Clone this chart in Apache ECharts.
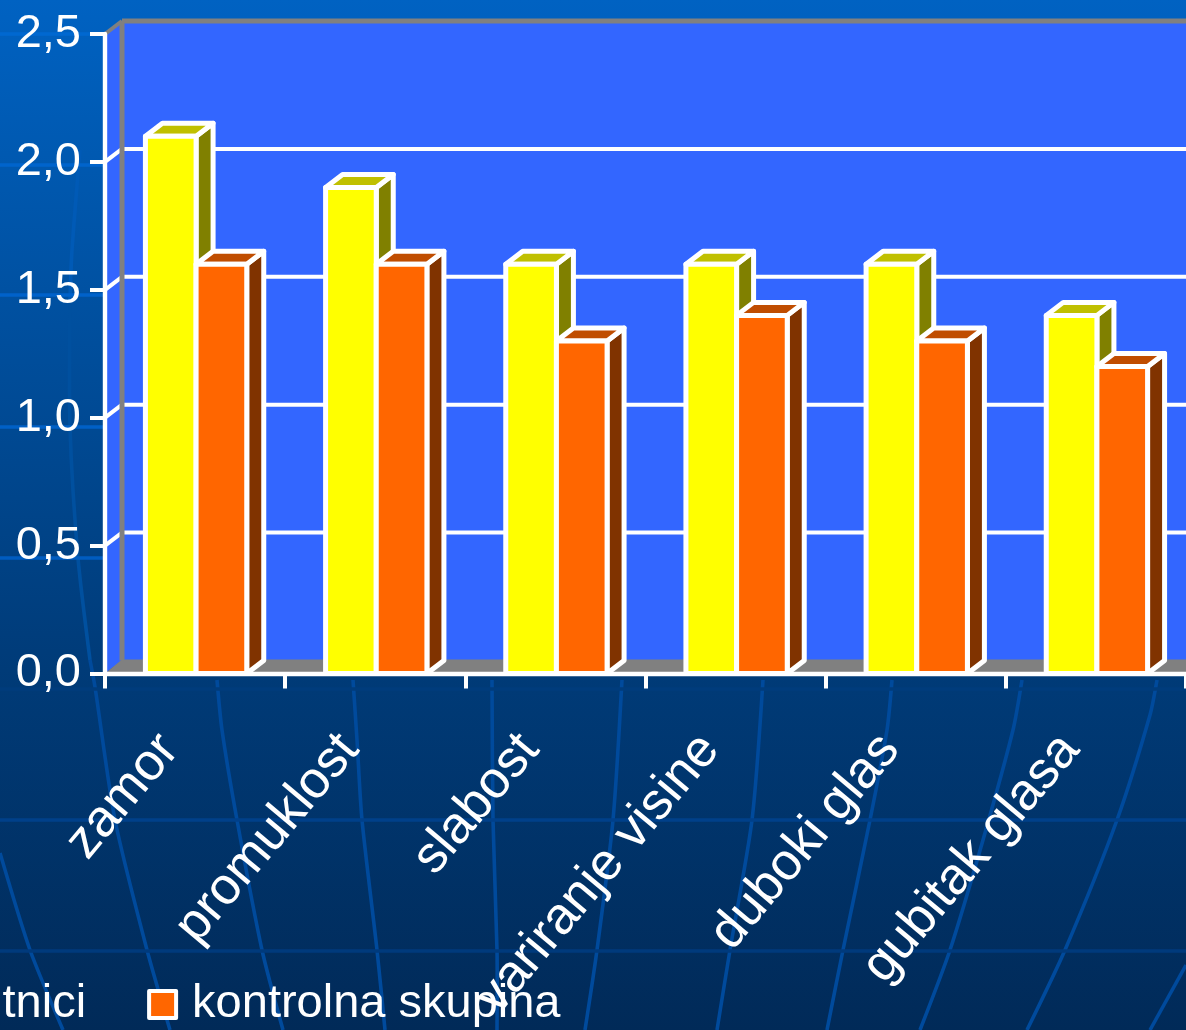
<!DOCTYPE html>
<html>
<head>
<meta charset="utf-8">
<style>html,body{margin:0;padding:0;background:#003a78}#c{width:1186px;height:1030px}</style>
<script src="https://cdn.jsdelivr.net/npm/echarts@6/dist/echarts.min.js"></script>
</head>
<body>
<div id="c"></div>
<script>
const categories = ['zamor','promuklost','slabost','variranje visine','duboki glas','gubitak glasa'];
const seriesAName = 'ispitnici';
const seriesBName = 'kontrolna skupina';
const seriesA = [2.1,1.9,1.6,1.6,1.6,1.4];
const seriesB = [1.6,1.6,1.3,1.4,1.3,1.2];
const yGridValues = [0.5,1.0,1.5,2.0];
const yMin = 0, yMax = 2.5, yStep = 0.5;

const DX = 17, DY = 13, FONT = 'Liberation Sans, Arial, sans-serif';
const chart = echarts.init(document.getElementById('c'));

function poly(points, fill, stroke, lw) {
  return {type:'polygon', shape:{points}, style:{fill, stroke, lineWidth:lw, lineJoin:'round'}};
}
function line(a, b, stroke, lw) {
  return {type:'line', shape:{x1:a[0],y1:a[1],x2:b[0],y2:b[1]}, style:{stroke, lineWidth:lw}};
}
function renderWall(params, api) {
  const band = api.size([1,0])[0];
  const left = api.coord([0,yMin])[0] - band/2;
  const right = api.coord([categories.length-1,yMin])[0] + band/2 + 40;
  const yb = api.coord([0,yMin])[1], yt = api.coord([0,yMax])[1];
  const kids = [
    poly([[left,yb],[left+DX,yb-DY],[left+DX,yt-DY],[left,yt]], '#3366FF'),
    {type:'rect', shape:{x:left+DX,y:yt-DY,width:right-left,height:yb-yt}, style:{fill:'#3366FF'}},
    poly([[left,yb],[left+DX,yb-DY-1],[right,yb-DY-1],[right,yb]], '#808080')
  ];
  yGridValues.forEach(v => {
    const y = api.coord([0,v])[1];
    kids.push(line([left,y],[left+DX,y-DY],'#FFFFFF',4));
    kids.push(line([left+DX,y-DY],[right,y-DY],'#FFFFFF',4));
  });
  kids.push(line([left,yt],[left+DX,yt-DY],'#808080',4));
  kids.push(line([left+DX,yt-DY],[right,yt-DY],'#808080',5));
  kids.push(line([left+DX,yt-DY],[left+DX,yb-DY],'#808080',5));
  return {type:'group', children:kids};
}
function makeBar(slot, front, topC, sideC) {
  return function(params, api) {
    const band = api.size([1,0])[0];
    const w = band * 0.2812;
    const c = api.coord([api.value(0), api.value(1)]);
    const base = api.coord([api.value(0), 0]);
    const x0 = c[0] + 1 + (slot === 0 ? -w : 0), x1 = x0 + w;
    const yt = c[1], yb = base[1];
    const L = 5, S = '#FFFFFF';
    return {type:'group', children:[
      poly([[x1,yb],[x1+DX,yb-DY],[x1+DX,yt-DY],[x1,yt]], sideC, S, L),
      poly([[x0,yt],[x0+DX,yt-DY],[x1+DX,yt-DY],[x1,yt]], topC, S, L),
      poly([[x0,yb],[x0,yt],[x1,yt],[x1,yb]], front, S, L)
    ]};
  };
}
function bgCurve(points, color) {
  return {type:'polyline', silent:true, z:0, shape:{points, smooth:0.25},
          style:{stroke:color || '#004A9C', lineWidth:3.6, fill:null}};
}
function bgLine(y, color) {
  return {type:'line', silent:true, z:0, shape:{x1:0,y1:y,x2:1186,y2:y}, style:{stroke:color,lineWidth:3.6}};
}
const decoration = [
  bgCurve([[80,150],[72,250],[70,300]], '#005AB6'),
  bgCurve([[70,300],[70,427],[78,558],[90,660]], '#00509F'),
  bgCurve([[90,660],[95,687],[115,820],[147,950],[170,1030]]),
  bgCurve([[217,680],[222,730],[237,820],[262,950],[283,1030]]),
  bgCurve([[353,680],[357,740],[362,820],[377,950],[385,1030]]),
  bgCurve([[492,680],[493,820],[497,950],[497,1030]]),
  bgCurve([[622,680],[613,820],[597,950],[585,1030]]),
  bgCurve([[763,680],[752,820],[730,950],[717,1030]]),
  bgCurve([[892,680],[887,730],[870,820],[843,950],[827,1030]]),
  bgCurve([[1022,680],[1013,730],[983,840],[950,950],[920,1030]]),
  bgCurve([[1157,680],[1150,715],[1117,820],[1065,950],[1027,1030]]),
  bgCurve([[1186,965],[1150,1030]]),
  bgCurve([[0,853],[30,950],[63,1030]]),
  bgLine(34,'#0068D0'), bgLine(165,'#0064CC'), bgLine(295,'#0062CA'), bgLine(427,'#0060C6'), bgLine(558,'#005CC0'),
  bgLine(689,'#003C7C'), bgLine(820,'#00408A'), bgLine(951,'#003A7C')
];

chart.setOption({
  animation:false,
  backgroundColor:new echarts.graphic.LinearGradient(0,0,0,1,[
    {offset:0,color:'#0062C2'},{offset:0.65,color:'#003B78'},{offset:1,color:'#012A58'}
  ]),
  textStyle:{fontFamily:FONT},
  graphic:{elements:decoration},
  grid:{left:105,top:34,width:1082,height:639.5,containLabel:false,show:false},
  legend:{
    left:-118, top:976, itemWidth:27, itemHeight:27, itemGap:61,
    selectedMode:false,
    textStyle:{color:'#FFFFFF',fontSize:47,fontFamily:FONT,padding:[8,0,0,11]},
    data:[
      {name:seriesAName, icon:'rect', itemStyle:{color:'#FFFF00',borderColor:'#FFFFFF',borderWidth:4,borderJoin:'round'}},
      {name:seriesBName, icon:'rect', itemStyle:{color:'#FF6600',borderColor:'#FFFFFF',borderWidth:4,borderJoin:'round'}}
    ]
  },
  xAxis:{
    type:'category', data:categories, z:5,
    axisLine:{show:true,lineStyle:{color:'#FFFFFF',width:4.4}},
    axisTick:{show:true,alignWithLabel:false,length:15,lineStyle:{color:'#FFFFFF',width:4}},
    axisLabel:{color:'#FFFFFF',fontSize:52,rotate:50,margin:37,interval:0,fontFamily:FONT,padding:[0,40,0,0]},
    splitLine:{show:false}
  },
  yAxis:{
    type:'value', min:yMin, max:yMax, interval:yStep, z:5,
    axisLine:{show:true,lineStyle:{color:'#FFFFFF',width:4.4}},
    axisTick:{show:true,length:15,lineStyle:{color:'#FFFFFF',width:4}},
    axisLabel:{color:'#FFFFFF',fontSize:47,margin:24,fontFamily:FONT,
      formatter:v => v.toFixed(1).replace('.',',')},
    splitLine:{show:false}
  },
  series:[
    {type:'custom', name:'wall', z:2, silent:true, renderItem:renderWall, data:[[0,yMax]], encode:{x:0,y:1}, clip:false},
    {type:'custom', name:seriesAName, z:3, renderItem:makeBar(0,'#FFFF00','#C0C000','#808000'),
     data:seriesA.map((v,i)=>[i,v]), encode:{x:0,y:1}, itemStyle:{color:'#FFFF00'}},
    {type:'custom', name:seriesBName, z:4, renderItem:makeBar(1,'#FF6600','#C04D00','#803300'),
     data:seriesB.map((v,i)=>[i,v]), encode:{x:0,y:1}, itemStyle:{color:'#FF6600'}}
  ]
});
</script>
</body>
</html>
